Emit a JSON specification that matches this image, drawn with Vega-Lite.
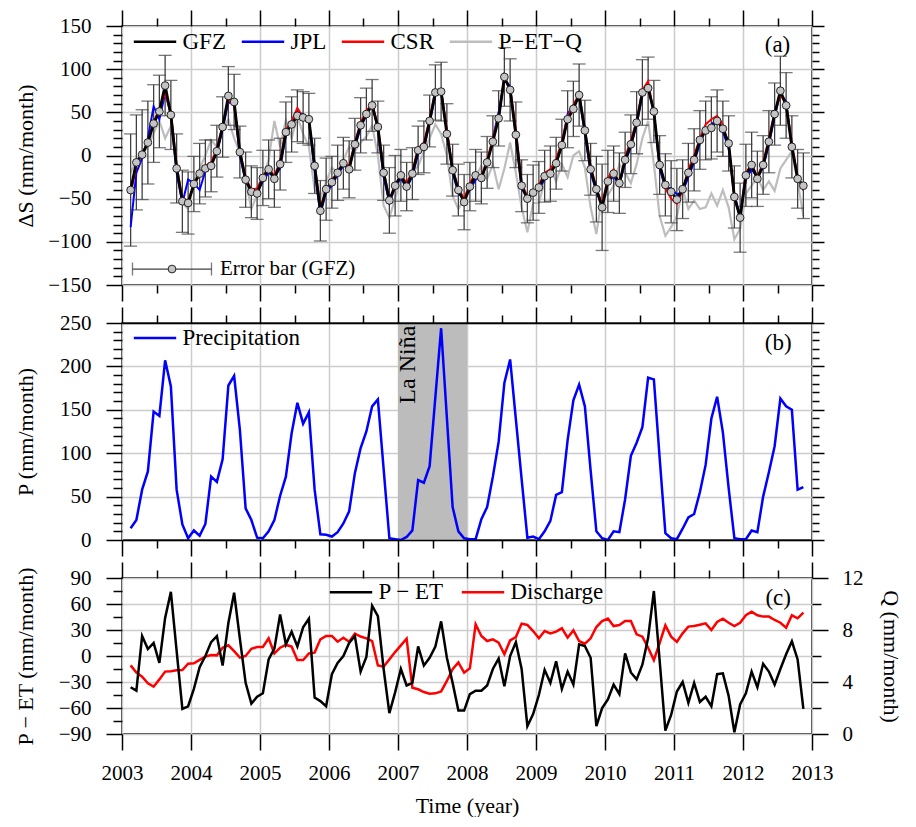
{
"$schema": "https://vega.github.io/schema/vega-lite/v6.json",
"background": "white",
"padding": {"left": 13, "top": 8, "right": 0, "bottom": 0},
"config": {
  "font": "Liberation Serif",
  "view": {"stroke": "black", "strokeWidth": 1.5},
  "axis": {"labelFont": "Liberation Serif", "titleFont": "Liberation Serif", "labelFontSize": 21, "titleFontSize": 22, "titleFontWeight": "normal", "labelColor": "black", "titleColor": "black", "tickColor": "black", "domainColor": "black", "tickWidth": 1.5, "domainWidth": 1.5, "domain": false, "gridColor": "#cccccc", "gridWidth": 1.5, "labelOverlap": false, "labelFlush": false},
  "legend": {"labelFont": "Liberation Serif", "labelFontSize": 23, "labelColor": "black"},
  "text": {"font": "Liberation Serif"}
},
"datasets": {"m": [
{"t":2003.125,"GFZ":-40,"JPL":-83,"CSR":-45,"PETQ":-20,"err":65,"precip":13.5,"PET":-36,"Q":5.28},
{"t":2003.2083,"GFZ":-8,"JPL":-20,"CSR":-12,"PETQ":-5,"err":55,"precip":23,"PET":-40,"Q":4.72},
{"t":2003.2917,"GFZ":1,"JPL":-3,"CSR":2,"PETQ":2,"err":52,"precip":58,"PET":23,"Q":4.41},
{"t":2003.375,"GFZ":15,"JPL":20,"CSR":16,"PETQ":10,"err":48,"precip":79,"PET":8,"Q":3.9},
{"t":2003.4583,"GFZ":37,"JPL":57,"CSR":38,"PETQ":26,"err":45,"precip":148,"PET":15,"Q":3.64},
{"t":2003.5417,"GFZ":51,"JPL":42,"CSR":55,"PETQ":40,"err":42,"precip":143,"PET":-8,"Q":4.2},
{"t":2003.625,"GFZ":81,"JPL":72,"CSR":72,"PETQ":20,"err":35,"precip":207,"PET":44,"Q":4.8},
{"t":2003.7083,"GFZ":47,"JPL":48,"CSR":50,"PETQ":34,"err":40,"precip":177,"PET":74,"Q":4.82},
{"t":2003.7917,"GFZ":-15,"JPL":-20,"CSR":-12,"PETQ":-10,"err":40,"precip":58,"PET":6,"Q":4.9},
{"t":2003.875,"GFZ":-53,"JPL":-55,"CSR":-50,"PETQ":-55,"err":36,"precip":18,"PET":-61,"Q":4.92},
{"t":2003.9583,"GFZ":-55,"JPL":-28,"CSR":-52,"PETQ":-62,"err":36,"precip":2,"PET":-58,"Q":5.41},
{"t":2004.0417,"GFZ":-33,"JPL":-32,"CSR":-35,"PETQ":-30,"err":32,"precip":11,"PET":-38,"Q":5.44},
{"t":2004.125,"GFZ":-21,"JPL":-40,"CSR":-22,"PETQ":-15,"err":35,"precip":5,"PET":-13,"Q":5.7},
{"t":2004.2083,"GFZ":-15,"JPL":-18,"CSR":-12,"PETQ":0,"err":33,"precip":18.5,"PET":0,"Q":5.95},
{"t":2004.2917,"GFZ":-12,"JPL":-10,"CSR":-8,"PETQ":18,"err":30,"precip":73,"PET":16,"Q":6.08},
{"t":2004.375,"GFZ":5,"JPL":3,"CSR":8,"PETQ":10,"err":30,"precip":67,"PET":23,"Q":6.05},
{"t":2004.4583,"GFZ":33,"JPL":30,"CSR":35,"PETQ":30,"err":35,"precip":93,"PET":-11,"Q":6.64},
{"t":2004.5417,"GFZ":69,"JPL":62,"CSR":65,"PETQ":42,"err":34,"precip":178,"PET":38,"Q":6.82},
{"t":2004.625,"GFZ":62,"JPL":60,"CSR":58,"PETQ":20,"err":32,"precip":189,"PET":73,"Q":6.38},
{"t":2004.7083,"GFZ":4,"JPL":0,"CSR":5,"PETQ":3,"err":30,"precip":127,"PET":20,"Q":5.87},
{"t":2004.7917,"GFZ":-28,"JPL":-30,"CSR":-25,"PETQ":-30,"err":32,"precip":36.5,"PET":-31,"Q":6.0},
{"t":2004.875,"GFZ":-42,"JPL":-40,"CSR":-40,"PETQ":-62,"err":30,"precip":23,"PET":-55,"Q":6.56},
{"t":2004.9583,"GFZ":-44,"JPL":-42,"CSR":-38,"PETQ":-45,"err":30,"precip":2.7,"PET":-47,"Q":6.69},
{"t":2005.0417,"GFZ":-26,"JPL":-30,"CSR":-24,"PETQ":-27,"err":32,"precip":2,"PET":-43,"Q":6.69},
{"t":2005.125,"GFZ":-16,"JPL":-20,"CSR":-14,"PETQ":-5,"err":34,"precip":10,"PET":-4,"Q":7.36},
{"t":2005.2083,"GFZ":-27,"JPL":-25,"CSR":-24,"PETQ":40,"err":33,"precip":23,"PET":8.5,"Q":6.2},
{"t":2005.2917,"GFZ":-10,"JPL":-15,"CSR":-6,"PETQ":10,"err":30,"precip":51,"PET":48,"Q":6.64},
{"t":2005.375,"GFZ":27,"JPL":24,"CSR":30,"PETQ":41,"err":35,"precip":73,"PET":13.5,"Q":6.85},
{"t":2005.4583,"GFZ":36,"JPL":38,"CSR":40,"PETQ":20,"err":32,"precip":123,"PET":28,"Q":6.72},
{"t":2005.5417,"GFZ":46,"JPL":50,"CSR":55,"PETQ":45,"err":30,"precip":158,"PET":11,"Q":5.69},
{"t":2005.625,"GFZ":44,"JPL":48,"CSR":44,"PETQ":25,"err":30,"precip":134,"PET":33,"Q":5.69},
{"t":2005.7083,"GFZ":42,"JPL":40,"CSR":40,"PETQ":10,"err":30,"precip":147,"PET":43,"Q":6.2},
{"t":2005.7917,"GFZ":-12,"JPL":-18,"CSR":-10,"PETQ":-39,"err":32,"precip":58,"PET":-48,"Q":6.26},
{"t":2005.875,"GFZ":-64,"JPL":-68,"CSR":-60,"PETQ":-50,"err":35,"precip":6.5,"PET":-52,"Q":7.28},
{"t":2005.9583,"GFZ":-39,"JPL":-42,"CSR":-40,"PETQ":-30,"err":36,"precip":6,"PET":-58,"Q":7.54},
{"t":2006.0417,"GFZ":-31,"JPL":-35,"CSR":-28,"PETQ":-14,"err":30,"precip":4,"PET":-21,"Q":7.54},
{"t":2006.125,"GFZ":-20,"JPL":-22,"CSR":-20,"PETQ":-20,"err":32,"precip":9,"PET":-8,"Q":7.1},
{"t":2006.2083,"GFZ":-9,"JPL":-12,"CSR":-8,"PETQ":-5,"err":30,"precip":19,"PET":0,"Q":7.4},
{"t":2006.2917,"GFZ":-16,"JPL":-14,"CSR":-12,"PETQ":10,"err":33,"precip":33,"PET":15,"Q":7.1},
{"t":2006.375,"GFZ":13,"JPL":10,"CSR":15,"PETQ":5,"err":30,"precip":77,"PET":23,"Q":7.72},
{"t":2006.4583,"GFZ":35,"JPL":32,"CSR":38,"PETQ":15,"err":32,"precip":106,"PET":-18,"Q":7.5},
{"t":2006.5417,"GFZ":48,"JPL":47,"CSR":52,"PETQ":22,"err":30,"precip":125,"PET":-1,"Q":7.36},
{"t":2006.625,"GFZ":58,"JPL":60,"CSR":60,"PETQ":35,"err":30,"precip":154,"PET":58,"Q":7.15},
{"t":2006.7083,"GFZ":33,"JPL":30,"CSR":35,"PETQ":0,"err":30,"precip":162,"PET":46,"Q":5.28},
{"t":2006.7917,"GFZ":-20,"JPL":-25,"CSR":-18,"PETQ":-58,"err":32,"precip":82,"PET":-15,"Q":5.18},
{"t":2006.875,"GFZ":-52,"JPL":-55,"CSR":-50,"PETQ":-72,"err":38,"precip":2,"PET":-66,"Q":5.74},
{"t":2006.9583,"GFZ":-35,"JPL":-37,"CSR":-38,"PETQ":-50,"err":35,"precip":1,"PET":-42,"Q":6.3},
{"t":2007.0417,"GFZ":-23,"JPL":-26,"CSR":-22,"PETQ":-28,"err":30,"precip":0,"PET":-15,"Q":6.82},
{"t":2007.125,"GFZ":-36,"JPL":-38,"CSR":-32,"PETQ":-35,"err":28,"precip":3.5,"PET":-34,"Q":7.33},
{"t":2007.2083,"GFZ":-21,"JPL":-24,"CSR":-18,"PETQ":-20,"err":30,"precip":11,"PET":-31,"Q":3.56},
{"t":2007.2917,"GFZ":6,"JPL":2,"CSR":8,"PETQ":-12,"err":28,"precip":69,"PET":11,"Q":3.44},
{"t":2007.375,"GFZ":10,"JPL":8,"CSR":15,"PETQ":4,"err":30,"precip":66,"PET":-11,"Q":3.23},
{"t":2007.4583,"GFZ":40,"JPL":38,"CSR":42,"PETQ":20,"err":30,"precip":85,"PET":-2,"Q":3.1},
{"t":2007.5417,"GFZ":73,"JPL":70,"CSR":76,"PETQ":36,"err":32,"precip":165,"PET":11,"Q":3.13},
{"t":2007.625,"GFZ":74,"JPL":76,"CSR":75,"PETQ":25,"err":34,"precip":244,"PET":40,"Q":3.28},
{"t":2007.7083,"GFZ":25,"JPL":28,"CSR":30,"PETQ":0,"err":35,"precip":141,"PET":-2,"Q":4.08},
{"t":2007.7917,"GFZ":-17,"JPL":-20,"CSR":-15,"PETQ":-47,"err":30,"precip":38,"PET":-31,"Q":4.98},
{"t":2007.875,"GFZ":-40,"JPL":-44,"CSR":-38,"PETQ":-62,"err":30,"precip":10,"PET":-63,"Q":5.5},
{"t":2007.9583,"GFZ":-54,"JPL":-50,"CSR":-50,"PETQ":-50,"err":32,"precip":2,"PET":-63,"Q":4.72},
{"t":2008.0417,"GFZ":-36,"JPL":-40,"CSR":-32,"PETQ":-40,"err":28,"precip":1,"PET":-44,"Q":5.05},
{"t":2008.125,"GFZ":-23,"JPL":-28,"CSR":-20,"PETQ":-25,"err":30,"precip":1,"PET":-40,"Q":8.44},
{"t":2008.2083,"GFZ":-26,"JPL":-24,"CSR":-24,"PETQ":-12,"err":30,"precip":24,"PET":-40,"Q":7.54},
{"t":2008.2917,"GFZ":-8,"JPL":-10,"CSR":-5,"PETQ":-27,"err":30,"precip":38,"PET":-34,"Q":7.15},
{"t":2008.375,"GFZ":16,"JPL":20,"CSR":20,"PETQ":-10,"err":30,"precip":73,"PET":-15,"Q":7.28},
{"t":2008.4583,"GFZ":43,"JPL":50,"CSR":45,"PETQ":-39,"err":32,"precip":113,"PET":-3,"Q":7.03},
{"t":2008.5417,"GFZ":91,"JPL":88,"CSR":88,"PETQ":-15,"err":34,"precip":181,"PET":-35,"Q":6.13},
{"t":2008.625,"GFZ":76,"JPL":80,"CSR":78,"PETQ":15,"err":36,"precip":208,"PET":0,"Q":7.2},
{"t":2008.7083,"GFZ":24,"JPL":22,"CSR":30,"PETQ":-20,"err":38,"precip":139,"PET":16,"Q":7.46},
{"t":2008.7917,"GFZ":-35,"JPL":-38,"CSR":-32,"PETQ":-60,"err":30,"precip":70,"PET":-15,"Q":8.49},
{"t":2008.875,"GFZ":-50,"JPL":-50,"CSR":-48,"PETQ":-89,"err":28,"precip":2.7,"PET":-81,"Q":8.39},
{"t":2008.9583,"GFZ":-43,"JPL":-40,"CSR":-44,"PETQ":-55,"err":32,"precip":4,"PET":-67,"Q":7.92},
{"t":2009.0417,"GFZ":-37,"JPL":-40,"CSR":-34,"PETQ":-55,"err":30,"precip":1,"PET":-45,"Q":7.36},
{"t":2009.125,"GFZ":-24,"JPL":-27,"CSR":-20,"PETQ":-30,"err":30,"precip":10,"PET":-16,"Q":7.92},
{"t":2009.2083,"GFZ":-21,"JPL":-18,"CSR":-16,"PETQ":-15,"err":32,"precip":22,"PET":-31,"Q":7.74},
{"t":2009.2917,"GFZ":-9,"JPL":-10,"CSR":-4,"PETQ":-30,"err":30,"precip":52,"PET":-6,"Q":7.87},
{"t":2009.375,"GFZ":12,"JPL":14,"CSR":16,"PETQ":-10,"err":30,"precip":55,"PET":-38,"Q":8.13},
{"t":2009.4583,"GFZ":42,"JPL":48,"CSR":45,"PETQ":-25,"err":33,"precip":115,"PET":-18,"Q":7.41},
{"t":2009.5417,"GFZ":54,"JPL":58,"CSR":58,"PETQ":0,"err":32,"precip":161,"PET":-33,"Q":7.97},
{"t":2009.625,"GFZ":70,"JPL":68,"CSR":72,"PETQ":5,"err":36,"precip":179,"PET":13.5,"Q":7.15},
{"t":2009.7083,"GFZ":29,"JPL":26,"CSR":30,"PETQ":-14,"err":35,"precip":154,"PET":11.5,"Q":6.95},
{"t":2009.7917,"GFZ":-16,"JPL":-20,"CSR":-12,"PETQ":-60,"err":30,"precip":80,"PET":-2,"Q":7.36},
{"t":2009.875,"GFZ":-39,"JPL":-42,"CSR":-38,"PETQ":-91,"err":38,"precip":10,"PET":-81,"Q":8.23},
{"t":2009.9583,"GFZ":-60,"JPL":-58,"CSR":-56,"PETQ":-46,"err":50,"precip":2,"PET":-60,"Q":8.69},
{"t":2010.0417,"GFZ":-30,"JPL":-32,"CSR":-26,"PETQ":-46,"err":36,"precip":0,"PET":-50,"Q":8.88},
{"t":2010.125,"GFZ":-21,"JPL":-24,"CSR":-16,"PETQ":-35,"err":32,"precip":10,"PET":-33,"Q":8.3},
{"t":2010.2083,"GFZ":-32,"JPL":-34,"CSR":-34,"PETQ":-10,"err":35,"precip":9,"PET":-44,"Q":8.38},
{"t":2010.2917,"GFZ":-5,"JPL":-8,"CSR":-2,"PETQ":-20,"err":32,"precip":47,"PET":3,"Q":8.69},
{"t":2010.375,"GFZ":13,"JPL":10,"CSR":18,"PETQ":-32,"err":34,"precip":97,"PET":-19,"Q":8.69},
{"t":2010.4583,"GFZ":38,"JPL":36,"CSR":40,"PETQ":-10,"err":36,"precip":112,"PET":-27,"Q":7.67},
{"t":2010.5417,"GFZ":73,"JPL":70,"CSR":76,"PETQ":20,"err":38,"precip":130,"PET":-10,"Q":7.49},
{"t":2010.625,"GFZ":78,"JPL":80,"CSR":86,"PETQ":40,"err":36,"precip":187,"PET":21,"Q":6.64},
{"t":2010.7083,"GFZ":51,"JPL":50,"CSR":48,"PETQ":-10,"err":36,"precip":185,"PET":75,"Q":5.69},
{"t":2010.7917,"GFZ":-11,"JPL":-15,"CSR":-8,"PETQ":-70,"err":34,"precip":95,"PET":-5,"Q":7.0},
{"t":2010.875,"GFZ":-34,"JPL":-38,"CSR":-38,"PETQ":-93,"err":36,"precip":8,"PET":-86,"Q":8.36},
{"t":2010.9583,"GFZ":-42,"JPL":-38,"CSR":-50,"PETQ":-83,"err":36,"precip":2,"PET":-68,"Q":7.49},
{"t":2011.0417,"GFZ":-51,"JPL":-45,"CSR":-56,"PETQ":-70,"err":36,"precip":1,"PET":-41,"Q":7.08},
{"t":2011.125,"GFZ":-39,"JPL":-42,"CSR":-40,"PETQ":-39,"err":34,"precip":13,"PET":-30,"Q":7.74},
{"t":2011.2083,"GFZ":-20,"JPL":-25,"CSR":-16,"PETQ":-62,"err":34,"precip":26,"PET":-54,"Q":8.26},
{"t":2011.2917,"GFZ":-5,"JPL":-8,"CSR":0,"PETQ":-52,"err":36,"precip":30,"PET":-31,"Q":8.31},
{"t":2011.375,"GFZ":18,"JPL":14,"CSR":20,"PETQ":-62,"err":34,"precip":55,"PET":-53,"Q":8.41},
{"t":2011.4583,"GFZ":29,"JPL":30,"CSR":36,"PETQ":-60,"err":34,"precip":86.5,"PET":-47,"Q":8.51},
{"t":2011.5417,"GFZ":32,"JPL":36,"CSR":42,"PETQ":-44,"err":36,"precip":140,"PET":-58,"Q":8.0},
{"t":2011.625,"GFZ":40,"JPL":42,"CSR":46,"PETQ":-58,"err":36,"precip":165,"PET":-21,"Q":8.62},
{"t":2011.7083,"GFZ":31,"JPL":28,"CSR":36,"PETQ":-40,"err":32,"precip":124,"PET":-20,"Q":8.87},
{"t":2011.7917,"GFZ":14,"JPL":8,"CSR":12,"PETQ":-60,"err":32,"precip":60,"PET":-46,"Q":8.56},
{"t":2011.875,"GFZ":-48,"JPL":-45,"CSR":-50,"PETQ":-97,"err":36,"precip":2,"PET":-88,"Q":8.31},
{"t":2011.9583,"GFZ":-72,"JPL":-70,"CSR":-70,"PETQ":-85,"err":40,"precip":1,"PET":-56,"Q":8.56},
{"t":2012.0417,"GFZ":-23,"JPL":-28,"CSR":-20,"PETQ":-44,"err":36,"precip":1,"PET":-43,"Q":9.13},
{"t":2012.125,"GFZ":-11,"JPL":-16,"CSR":-10,"PETQ":-35,"err":38,"precip":11,"PET":-18,"Q":9.41},
{"t":2012.2083,"GFZ":-27,"JPL":-25,"CSR":-25,"PETQ":-25,"err":32,"precip":9,"PET":-36,"Q":9.13},
{"t":2012.2917,"GFZ":-11,"JPL":-14,"CSR":-8,"PETQ":-40,"err":34,"precip":50,"PET":-9,"Q":9.03},
{"t":2012.375,"GFZ":16,"JPL":13,"CSR":20,"PETQ":-30,"err":36,"precip":78,"PET":-18,"Q":9.03},
{"t":2012.4583,"GFZ":48,"JPL":45,"CSR":50,"PETQ":-41,"err":36,"precip":108,"PET":-33,"Q":8.77},
{"t":2012.5417,"GFZ":75,"JPL":72,"CSR":70,"PETQ":-15,"err":40,"precip":163,"PET":-15,"Q":8.56},
{"t":2012.625,"GFZ":58,"JPL":62,"CSR":60,"PETQ":-5,"err":38,"precip":154,"PET":2,"Q":8.18},
{"t":2012.7083,"GFZ":10,"JPL":10,"CSR":14,"PETQ":5,"err":36,"precip":150,"PET":17,"Q":9.13},
{"t":2012.7917,"GFZ":-27,"JPL":-25,"CSR":-25,"PETQ":-30,"err":34,"precip":58,"PET":-4,"Q":8.9},
{"t":2012.875,"GFZ":-35,"JPL":-40,"CSR":-40,"PETQ":-70,"err":38,"precip":61,"PET":-61,"Q":9.33}
]},
"spacing": 38,
"bounds": "flush",
"resolve": {"scale": {"color": "independent"}, "legend": {"color": "independent"}},
"vconcat": [
{
  "width": 690, "height": 259,
  "data": {"name": "m"},
  "layer": [
    {"mark": {"type": "line", "strokeWidth": 2.2},
     "encoding": {
       "x": {"field": "t", "type": "quantitative", "scale": {"domain": [2003, 2013], "nice": false, "zero": false},
             "axis": {"orient": "bottom", "values": [2003,2003.5,2004,2004.5,2005,2005.5,2006,2006.5,2007,2007.5,2008,2008.5,2009,2009.5,2010,2010.5,2011,2011.5,2012,2012.5,2013], "grid": true, "gridOpacity": {"condition": {"test": "datum.value % 1 === 0", "value": 1}, "value": 0}, "tickSize": {"condition": {"test": "datum.value % 1 === 0", "value": 16}, "value": 8}, "labels": false, "title": null}},
       "y": {"field": "PETQ", "type": "quantitative", "scale": {"domain": [-150, 150], "nice": false, "zero": false},
             "axis": {"orient": "left", "values": [-150,-140,-130,-120,-110,-100,-90,-80,-70,-60,-50,-40,-30,-20,-10,0,10,20,30,40,50,60,70,80,90,100,110,120,130,140,150], "grid": true, "gridOpacity": {"condition": {"test": "datum.value % 50 === 0", "value": 1}, "value": 0}, "tickSize": {"condition": {"test": "datum.value % 50 === 0", "value": 16}, "value": 9}, "labelExpr": "datum.value % 50 === 0 ? datum.label : ''", "labelPadding": 15, "title": "ΔS (mm/month)", "titleX": -85}},
       "color": {"datum": "P−ET−Q", "scale": {"domain": ["GFZ", "JPL", "CSR", "P−ET−Q"], "range": ["#000000", "#0000ff", "#ff0000", "#bdbdbd"]},
                 "legend": {"orient": "none", "legendX": 10.5, "legendY": -7, "direction": "horizontal", "title": null, "symbolType": "stroke", "symbolSize": 1800, "symbolStrokeWidth": 2.5, "labelOffset": 5, "columnPadding": 10, "padding": 0, "labelFontSize": 23}}
     }},
    {"mark": {"type": "errorbar", "ticks": true, "size": 13, "thickness": 1.3, "color": "#404040"},
     "encoding": {
       "x": {"field": "t", "type": "quantitative", "scale": {"domain": [2003, 2013], "nice": false, "zero": false}, "axis": null},
       "y": {"field": "GFZ", "type": "quantitative", "scale": {"domain": [-150, 150], "nice": false, "zero": false}, "axis": null},
       "yError": {"field": "err"}
     }},
    {"mark": {"type": "line", "strokeWidth": 2},
     "encoding": {
       "x": {"field": "t", "type": "quantitative", "scale": {"domain": [2003, 2013], "nice": false, "zero": false},
             "axis": {"orient": "top", "values": [2003,2003.5,2004,2004.5,2005,2005.5,2006,2006.5,2007,2007.5,2008,2008.5,2009,2009.5,2010,2010.5,2011,2011.5,2012,2012.5,2013], "grid": false, "tickSize": {"condition": {"test": "datum.value % 1 === 0", "value": 16}, "value": 8}, "labels": false, "title": null}},
       "y": {"field": "JPL", "type": "quantitative", "scale": {"domain": [-150, 150], "nice": false, "zero": false},
             "axis": {"orient": "right", "values": [-150,-140,-130,-120,-110,-100,-90,-80,-70,-60,-50,-40,-30,-20,-10,0,10,20,30,40,50,60,70,80,90,100,110,120,130,140,150], "grid": false, "tickSize": {"condition": {"test": "datum.value % 50 === 0", "value": 12}, "value": 7}, "labels": false, "title": null}},
       "color": {"datum": "JPL", "scale": {"domain": ["GFZ", "JPL", "CSR", "P−ET−Q"], "range": ["#000000", "#0000ff", "#ff0000", "#bdbdbd"]}}
     }},
    {"mark": {"type": "line", "strokeWidth": 2},
     "encoding": {
       "x": {"field": "t", "type": "quantitative", "scale": {"domain": [2003, 2013], "nice": false, "zero": false}, "axis": null},
       "y": {"field": "CSR", "type": "quantitative", "scale": {"domain": [-150, 150], "nice": false, "zero": false}, "axis": null},
       "color": {"datum": "CSR", "scale": {"domain": ["GFZ", "JPL", "CSR", "P−ET−Q"], "range": ["#000000", "#0000ff", "#ff0000", "#bdbdbd"]}}
     }},
    {"mark": {"type": "line", "strokeWidth": 2.8},
     "encoding": {
       "x": {"field": "t", "type": "quantitative", "scale": {"domain": [2003, 2013], "nice": false, "zero": false}, "axis": null},
       "y": {"field": "GFZ", "type": "quantitative", "scale": {"domain": [-150, 150], "nice": false, "zero": false}, "axis": null},
       "color": {"datum": "GFZ", "scale": {"domain": ["GFZ", "JPL", "CSR", "P−ET−Q"], "range": ["#000000", "#0000ff", "#ff0000", "#bdbdbd"]}}
     }},
    {"mark": {"type": "circle", "size": 60, "fill": "#c4c4c4", "stroke": "#111111", "strokeWidth": 0.9, "opacity": 1},
     "encoding": {
       "x": {"field": "t", "type": "quantitative", "scale": {"domain": [2003, 2013], "nice": false, "zero": false}, "axis": null},
       "y": {"field": "GFZ", "type": "quantitative", "scale": {"domain": [-150, 150], "nice": false, "zero": false}, "axis": null}
     }},
    {"data": {"values": [{"x": 2012.5, "y": 128, "label": "(a)"}]},
     "mark": {"type": "text", "fontSize": 23, "align": "center", "baseline": "middle", "color": "black"},
     "encoding": {
       "x": {"field": "x", "type": "quantitative", "axis": null},
       "y": {"field": "y", "type": "quantitative", "axis": null},
       "text": {"field": "label"}
     }},
    {"data": {"values": [{"lo": 2003.152, "hi": 2004.297, "y": -131.5}]},
     "mark": {"type": "errorbar", "ticks": true, "size": 13, "thickness": 1.3, "color": "#404040"},
     "encoding": {
       "x": {"field": "lo", "type": "quantitative", "axis": null},
       "x2": {"field": "hi"},
       "y": {"field": "y", "type": "quantitative", "axis": null}
     }},
    {"data": {"values": [{"x": 2003.725, "y": -131.5}]},
     "mark": {"type": "circle", "size": 60, "fill": "#c4c4c4", "stroke": "#111111", "strokeWidth": 0.9, "opacity": 1},
     "encoding": {
       "x": {"field": "x", "type": "quantitative", "axis": null},
       "y": {"field": "y", "type": "quantitative", "axis": null}
     }},
    {"data": {"values": [{"x": 2004.42, "y": -131.5, "label": "Error bar (GFZ)"}]},
     "mark": {"type": "text", "fontSize": 21, "align": "left", "baseline": "middle", "color": "black"},
     "encoding": {
       "x": {"field": "x", "type": "quantitative", "axis": null},
       "y": {"field": "y", "type": "quantitative", "axis": null},
       "text": {"field": "label"}
     }}
  ],
  "resolve": {"axis": {"x": "independent", "y": "independent"}}
},
{
  "width": 690, "height": 217,
  "layer": [
    {"data": {"values": [{"start": 2007, "end": 2008}]},
     "mark": {"type": "rect", "color": "#bcbcbc"},
     "encoding": {
       "x": {"field": "start", "type": "quantitative", "scale": {"domain": [2003, 2013], "nice": false, "zero": false},
             "axis": {"orient": "top", "values": [2003,2003.5,2004,2004.5,2005,2005.5,2006,2006.5,2007,2007.5,2008,2008.5,2009,2009.5,2010,2010.5,2011,2011.5,2012,2012.5,2013], "grid": false, "domain": true, "zindex": 1, "tickSize": {"condition": {"test": "datum.value % 1 === 0", "value": 16}, "value": 8}, "labels": false, "title": null}},
       "x2": {"field": "end"},
       "y": {"datum": 0, "type": "quantitative", "scale": {"domain": [0, 250], "nice": false, "zero": false},
             "axis": {"orient": "right", "values": [0,10,20,30,40,50,60,70,80,90,100,110,120,130,140,150,160,170,180,190,200,210,220,230,240,250], "grid": false, "tickSize": {"condition": {"test": "datum.value % 50 === 0", "value": 12}, "value": 7}, "labels": false, "title": null}},
       "y2": {"datum": 250}
     }},
    {"data": {"name": "m"},
     "mark": {"type": "line", "strokeWidth": 2.5},
     "encoding": {
       "x": {"field": "t", "type": "quantitative", "scale": {"domain": [2003, 2013], "nice": false, "zero": false},
             "axis": {"orient": "bottom", "values": [2003,2003.5,2004,2004.5,2005,2005.5,2006,2006.5,2007,2007.5,2008,2008.5,2009,2009.5,2010,2010.5,2011,2011.5,2012,2012.5,2013], "grid": true, "gridOpacity": {"condition": {"test": "datum.value % 1 === 0", "value": 1}, "value": 0}, "tickSize": {"condition": {"test": "datum.value % 1 === 0", "value": 16}, "value": 8}, "labels": false, "title": null}},
       "y": {"field": "precip", "type": "quantitative", "scale": {"domain": [0, 250], "nice": false, "zero": false},
             "axis": {"orient": "left", "values": [0,10,20,30,40,50,60,70,80,90,100,110,120,130,140,150,160,170,180,190,200,210,220,230,240,250], "grid": true, "gridOpacity": {"condition": {"test": "datum.value % 50 === 0", "value": 1}, "value": 0}, "tickSize": {"condition": {"test": "datum.value % 50 === 0", "value": 16}, "value": 9}, "labelExpr": "datum.value % 50 === 0 ? datum.label : ''", "labelPadding": 15, "title": "P (mm/month)", "titleX": -85}},
       "color": {"datum": "Precipitation", "scale": {"domain": ["Precipitation"], "range": ["#0000ff"]},
                 "legend": {"orient": "none", "legendX": 10.5, "legendY": -7.5, "direction": "horizontal", "title": null, "symbolType": "stroke", "symbolSize": 1800, "symbolStrokeWidth": 2.5, "labelOffset": 5, "padding": 0, "labelFontSize": 23}}
     }},
    {"data": {"values": [{"x": 2007.15, "y": 202, "label": "La Niña"}]},
     "mark": {"type": "text", "fontSize": 24, "angle": 270, "align": "center", "baseline": "middle", "color": "black"},
     "encoding": {
       "x": {"field": "x", "type": "quantitative", "scale": {"domain": [2003, 2013], "nice": false, "zero": false},
             "axis": {"orient": "bottom", "domain": true, "zindex": 1, "ticks": false, "labels": false, "grid": false, "title": null}},
       "y": {"field": "y", "type": "quantitative", "scale": {"domain": [0, 250], "nice": false, "zero": false}, "axis": null},
       "text": {"field": "label"}
     }},
    {"data": {"values": [{"x": 2012.51, "y": 227, "label": "(b)"}]},
     "mark": {"type": "text", "fontSize": 23, "align": "center", "baseline": "middle", "color": "black"},
     "encoding": {
       "x": {"field": "x", "type": "quantitative", "axis": null},
       "y": {"field": "y", "type": "quantitative", "axis": null},
       "text": {"field": "label"}
     }}
  ],
  "resolve": {"axis": {"x": "independent", "y": "independent"}}
},
{
  "width": 690, "height": 156,
  "data": {"name": "m"},
  "layer": [
    {"mark": {"type": "line", "strokeWidth": 2.5},
     "encoding": {
       "x": {"field": "t", "type": "quantitative", "scale": {"domain": [2003, 2013], "nice": false, "zero": false},
             "axis": {"orient": "top", "values": [2003,2003.5,2004,2004.5,2005,2005.5,2006,2006.5,2007,2007.5,2008,2008.5,2009,2009.5,2010,2010.5,2011,2011.5,2012,2012.5,2013], "grid": false, "tickSize": {"condition": {"test": "datum.value % 1 === 0", "value": 16}, "value": 8}, "labels": false, "title": null}},
       "y": {"field": "Q", "type": "quantitative", "scale": {"domain": [0, 12], "nice": false, "zero": false},
             "axis": {"orient": "right", "values": [0,2,4,6,8,10,12], "grid": false, "tickSize": {"condition": {"test": "datum.value % 4 === 0", "value": 16}, "value": 9}, "labelExpr": "datum.value % 4 === 0 ? datum.label : ''", "labelPadding": 14, "title": "Q (mm/month)", "titleAngle": 90, "titleBaseline": "bottom", "titleX": 66}},
       "color": {"datum": "Discharge", "scale": {"domain": ["P − ET", "Discharge"], "range": ["#000000", "#ff0000"]}}
     }},
    {"mark": {"type": "line", "strokeWidth": 2.5},
     "encoding": {
       "x": {"field": "t", "type": "quantitative", "scale": {"domain": [2003, 2013], "nice": false, "zero": false},
             "axis": {"orient": "bottom", "values": [2003,2003.5,2004,2004.5,2005,2005.5,2006,2006.5,2007,2007.5,2008,2008.5,2009,2009.5,2010,2010.5,2011,2011.5,2012,2012.5,2013], "grid": true, "gridOpacity": {"condition": {"test": "datum.value % 1 === 0", "value": 1}, "value": 0}, "tickSize": {"condition": {"test": "datum.value % 1 === 0", "value": 16}, "value": 8}, "format": "d", "labelExpr": "datum.value % 1 === 0 ? datum.label : ''", "labelPadding": 12, "title": "Time (year)", "titlePadding": 12}},
       "y": {"field": "PET", "type": "quantitative", "scale": {"domain": [-90, 90], "nice": false, "zero": false},
             "axis": {"orient": "left", "values": [-90,-75,-60,-45,-30,-15,0,15,30,45,60,75,90], "grid": true, "gridOpacity": {"condition": {"test": "datum.value % 30 === 0", "value": 1}, "value": 0}, "tickSize": {"condition": {"test": "datum.value % 30 === 0", "value": 16}, "value": 9}, "labelExpr": "datum.value % 30 === 0 ? datum.label : ''", "labelPadding": 15, "title": "P − ET (mm/month)", "titleX": -85}},
       "color": {"datum": "P − ET", "scale": {"domain": ["P − ET", "Discharge"], "range": ["#000000", "#ff0000"]},
                 "legend": {"orient": "none", "legendX": 206.5, "legendY": -8.5, "direction": "horizontal", "title": null, "symbolType": "stroke", "symbolSize": 1800, "symbolStrokeWidth": 2.5, "labelOffset": 5, "columnPadding": 12, "padding": 0, "labelFontSize": 23}}
     }},
    {"data": {"values": [{"x": 2012.51, "y": 67, "label": "(c)"}]},
     "mark": {"type": "text", "fontSize": 23, "align": "center", "baseline": "middle", "color": "black"},
     "encoding": {
       "x": {"field": "x", "type": "quantitative", "axis": null},
       "y": {"field": "y", "type": "quantitative", "scale": {"domain": [-90, 90], "nice": false, "zero": false}, "axis": null},
       "text": {"field": "label"}
     }}
  ],
  "resolve": {"scale": {"y": "independent"}, "axis": {"x": "independent", "y": "independent"}}
}
]
}
